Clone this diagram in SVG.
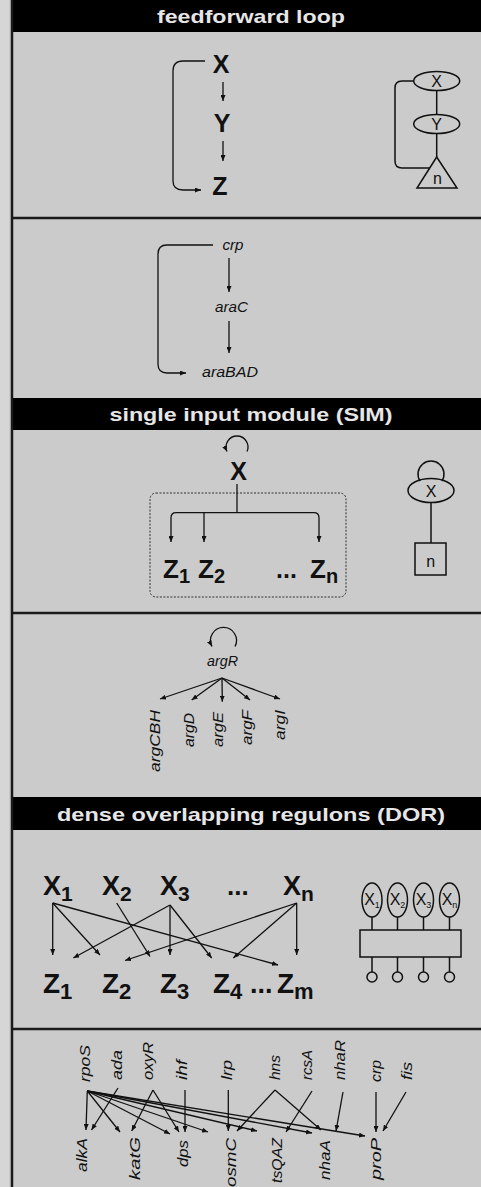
<svg xmlns="http://www.w3.org/2000/svg" width="481" height="1187" viewBox="0 0 481 1187">
<defs>
<marker id="ah" viewBox="0 0 6 5" refX="6" refY="2.5" markerWidth="6" markerHeight="5" markerUnits="userSpaceOnUse" orient="auto"><path d="M0,0 L6,2.5 L0,5 z" fill="#111"/></marker>
</defs>
<style>
.ht{font-family:"Liberation Sans",Arial,sans-serif;font-weight:bold;font-size:19px;fill:#e6e6e6;text-anchor:middle}
.sep{stroke:#1a1a1a;stroke-width:2.5}
.big{font-family:"Liberation Sans",Arial,sans-serif;font-weight:bold;fill:#111}
.it{font-family:"Liberation Sans",Arial,sans-serif;font-style:italic;font-size:15px;fill:#111}
.sm{font-family:"Liberation Sans",Arial,sans-serif;font-size:16px;fill:#111;text-anchor:middle}
.ln{fill:none;stroke:#111;stroke-width:1.3}
.ar{fill:none;stroke:#111;stroke-width:1.3;marker-end:url(#ah)}
.sh{fill:none;stroke:#111;stroke-width:1.5}
</style>
<rect width="481" height="1187" fill="#cbcbcb"/>
<rect width="9" height="1187" fill="#d6d6d6"/>

<!-- headers -->
<g id="hdr-ffl"><rect x="12" y="0" width="469" height="32" fill="#000"/><text class="ht" x="251" y="23" textLength="188" lengthAdjust="spacingAndGlyphs">feedforward loop</text></g>
<g id="hdr-sim"><rect x="12" y="398" width="469" height="32" fill="#000"/><text class="ht" x="251" y="421" textLength="283" lengthAdjust="spacingAndGlyphs">single input module (SIM)</text></g>
<g id="hdr-dor"><rect x="12" y="797" width="469" height="33" fill="#000"/><text class="ht" x="251" y="821" textLength="388" lengthAdjust="spacingAndGlyphs">dense overlapping regulons (DOR)</text></g>

<!-- panel borders -->
<line x1="12" y1="0" x2="12" y2="1187" class="sep"/>
<line x1="12" y1="218" x2="481" y2="218" class="sep"/>
<line x1="12" y1="613" x2="481" y2="613" class="sep"/>
<line x1="12" y1="1029" x2="481" y2="1029" class="sep"/>

<!-- FFL panel -->
<g id="ffl-X"><text class="big" font-size="25" x="221" y="73" text-anchor="middle">X</text></g>
<g id="ffl-Y"><text class="big" font-size="25" x="222" y="132" text-anchor="middle">Y</text></g>
<g id="ffl-Z"><text class="big" font-size="25" x="220" y="195" text-anchor="middle">Z</text></g>
<g id="ffl-icon">
<ellipse class="sh" cx="436.7" cy="81" rx="23" ry="9.5"/>
<ellipse class="sh" cx="436.7" cy="124" rx="23" ry="9.5"/>
<polygon class="sh" points="436.7,157 457,188 417,188"/>
<text class="sm" font-size="17" x="436.7" y="87">X</text>
<text class="sm" font-size="17" x="436.7" y="130">Y</text>
<text class="sm" font-size="18" x="437.5" y="184">n</text>
</g>

<!-- araC panel -->
<g id="ex-crp"><text class="it" x="233" y="250" text-anchor="middle" textLength="21" lengthAdjust="spacingAndGlyphs">crp</text></g>
<g id="ex-araC"><text class="it" x="231.5" y="312" text-anchor="middle" textLength="33" lengthAdjust="spacingAndGlyphs">araC</text></g>
<g id="ex-araBAD"><text class="it" x="230" y="377" text-anchor="middle" textLength="56" lengthAdjust="spacingAndGlyphs">araBAD</text></g>

<!-- SIM panel -->
<g id="sim-X"><text class="big" font-size="25" x="238.5" y="480" text-anchor="middle">X</text></g>
<g id="sim-box"><rect x="150" y="493" width="196" height="104" rx="6" fill="none" stroke="#333" stroke-width="1" stroke-dasharray="2,1.5"/></g>
<g id="sim-Z1"><text class="big" font-size="26" x="163" y="578">Z<tspan font-size="20" dy="5">1</tspan></text></g>
<g id="sim-Z2"><text class="big" font-size="26" x="198" y="578">Z<tspan font-size="20" dy="5">2</tspan></text></g>
<g id="sim-dots"><text class="big" font-size="25" x="276" y="578">...</text></g>
<g id="sim-Zn"><text class="big" font-size="26" x="310" y="578">Z<tspan font-size="20" dy="5">n</tspan></text></g>
<g id="sim-icon">
<ellipse class="sh" cx="431" cy="490.5" rx="23" ry="12"/>
<text class="sm" font-size="18" x="431" y="497">X</text>
<path class="sh" d="M420,481 A13,13 0 1,1 442,481"/>
<line class="sh" x1="431" y1="502.5" x2="431" y2="543"/>
<rect class="sh" x="415" y="543" width="31" height="32"/>
<text class="sm" font-size="18" x="430.7" y="567">n</text>
</g>

<!-- argR panel -->
<g id="arg-R"><text class="it" x="222.5" y="666" text-anchor="middle" textLength="31" lengthAdjust="spacingAndGlyphs">argR</text></g>
<g id="arg-CBH"><text class="it" text-anchor="end" transform="translate(159.5,710) rotate(-90)" textLength="62" lengthAdjust="spacingAndGlyphs">argCBH</text></g>
<g id="arg-D"><text class="it" text-anchor="end" transform="translate(193.5,713) rotate(-90)" textLength="34" lengthAdjust="spacingAndGlyphs">argD</text></g>
<g id="arg-E"><text class="it" text-anchor="end" transform="translate(223,712) rotate(-90)" textLength="35" lengthAdjust="spacingAndGlyphs">argE</text></g>
<g id="arg-F"><text class="it" text-anchor="end" transform="translate(251.5,710) rotate(-90)" textLength="35" lengthAdjust="spacingAndGlyphs">argF</text></g>
<g id="arg-I"><text class="it" text-anchor="end" transform="translate(284.5,710) rotate(-90)" textLength="30" lengthAdjust="spacingAndGlyphs">argI</text></g>

<!-- DOR panel -->
<g id="dor-X1"><text class="big" font-size="27" x="43" y="895">X<tspan font-size="21" dy="6">1</tspan></text></g>
<g id="dor-X2"><text class="big" font-size="27" x="102" y="895">X<tspan font-size="21" dy="6">2</tspan></text></g>
<g id="dor-X3"><text class="big" font-size="27" x="160" y="895">X<tspan font-size="21" dy="6">3</tspan></text></g>
<g id="dor-Xdots"><text class="big" font-size="26" x="227" y="895">...</text></g>
<g id="dor-Xn"><text class="big" font-size="27" x="283" y="895">X<tspan font-size="21" dy="6">n</tspan></text></g>
<g id="dor-Z1"><text class="big" font-size="28" x="43" y="993">Z<tspan font-size="22" dy="6">1</tspan></text></g>
<g id="dor-Z2"><text class="big" font-size="28" x="102" y="993">Z<tspan font-size="22" dy="6">2</tspan></text></g>
<g id="dor-Z3"><text class="big" font-size="28" x="160" y="993">Z<tspan font-size="22" dy="6">3</tspan></text></g>
<g id="dor-Z4"><text class="big" font-size="28" x="213" y="993">Z<tspan font-size="22" dy="6">4</tspan></text></g>
<g id="dor-Zdots"><text class="big" font-size="27" x="250" y="993">...</text></g>
<g id="dor-Zm"><text class="big" font-size="28" x="277" y="993">Z<tspan font-size="22" dy="6">m</tspan></text></g>
<g id="dor-icon">
<ellipse class="sh" cx="372" cy="900" rx="10" ry="17"/>
<ellipse class="sh" cx="397.5" cy="900" rx="10" ry="17"/>
<ellipse class="sh" cx="423.5" cy="900" rx="10" ry="17"/>
<ellipse class="sh" cx="449.5" cy="900" rx="10" ry="17"/>
<text class="sm" font-size="13" x="372" y="905">X<tspan font-size="9" dy="3">1</tspan></text>
<text class="sm" font-size="13" x="397.5" y="905">X<tspan font-size="9" dy="3">2</tspan></text>
<text class="sm" font-size="13" x="423.5" y="905">X<tspan font-size="9" dy="3">3</tspan></text>
<text class="sm" font-size="13" x="449.5" y="905">X<tspan font-size="9" dy="3">n</tspan></text>
<line class="sh" x1="372" y1="917" x2="372" y2="930"/>
<line class="sh" x1="397.5" y1="917" x2="397.5" y2="930"/>
<line class="sh" x1="423.5" y1="917" x2="423.5" y2="930"/>
<line class="sh" x1="449.5" y1="917" x2="449.5" y2="930"/>
<rect class="sh" x="360" y="930" width="101" height="27"/>
<line class="sh" x1="372" y1="957" x2="372" y2="972"/>
<line class="sh" x1="397.5" y1="957" x2="397.5" y2="972"/>
<line class="sh" x1="423.5" y1="957" x2="423.5" y2="972"/>
<line class="sh" x1="449.5" y1="957" x2="449.5" y2="972"/>
<circle class="sh" cx="372" cy="977" r="5"/>
<circle class="sh" cx="397.5" cy="977" r="5"/>
<circle class="sh" cx="423.5" cy="977" r="5"/>
<circle class="sh" cx="449.5" cy="977" r="5"/>
</g>

<!-- bottom network nodes -->
<g id="n-rpoS"><text class="it" transform="translate(89.5,1082) rotate(-90)" textLength="37" lengthAdjust="spacingAndGlyphs">rpoS</text></g>
<g id="n-ada"><text class="it" transform="translate(122,1080) rotate(-90)" textLength="30" lengthAdjust="spacingAndGlyphs">ada</text></g>
<g id="n-oxyR"><text class="it" transform="translate(153,1080) rotate(-90)" textLength="38" lengthAdjust="spacingAndGlyphs">oxyR</text></g>
<g id="n-ihf"><text class="it" transform="translate(186.5,1080) rotate(-90)" textLength="20" lengthAdjust="spacingAndGlyphs">ihf</text></g>
<g id="n-lrp"><text class="it" transform="translate(232,1080) rotate(-90)" textLength="20" lengthAdjust="spacingAndGlyphs">lrp</text></g>
<g id="n-hns"><text class="it" transform="translate(279.5,1080) rotate(-90)" textLength="25" lengthAdjust="spacingAndGlyphs">hns</text></g>
<g id="n-rcsA"><text class="it" transform="translate(312,1080) rotate(-90)" textLength="30" lengthAdjust="spacingAndGlyphs">rcsA</text></g>
<g id="n-nhaR"><text class="it" transform="translate(345,1080) rotate(-90)" textLength="40" lengthAdjust="spacingAndGlyphs">nhaR</text></g>
<g id="n-crp"><text class="it" transform="translate(381,1082) rotate(-90)" textLength="22" lengthAdjust="spacingAndGlyphs">crp</text></g>
<g id="n-fis"><text class="it" transform="translate(412,1080) rotate(-90)" textLength="18" lengthAdjust="spacingAndGlyphs">fis</text></g>
<g id="n-alkA"><text class="it" text-anchor="end" transform="translate(87,1138) rotate(-90)" textLength="34" lengthAdjust="spacingAndGlyphs">alkA</text></g>
<g id="n-katG"><text class="it" text-anchor="end" transform="translate(139.5,1137) rotate(-90)" textLength="43" lengthAdjust="spacingAndGlyphs">katG</text></g>
<g id="n-dps"><text class="it" text-anchor="end" transform="translate(188,1140) rotate(-90)" textLength="27" lengthAdjust="spacingAndGlyphs">dps</text></g>
<g id="n-osmC"><text class="it" text-anchor="end" transform="translate(236,1138) rotate(-90)" textLength="49" lengthAdjust="spacingAndGlyphs">osmC</text></g>
<g id="n-tsQAZ"><text class="it" text-anchor="end" transform="translate(282,1138) rotate(-90)" textLength="45" lengthAdjust="spacingAndGlyphs">tsQAZ</text></g>
<g id="n-nhaA"><text class="it" text-anchor="end" transform="translate(330,1140) rotate(-90)" textLength="40" lengthAdjust="spacingAndGlyphs">nhaA</text></g>
<g id="n-proP"><text class="it" text-anchor="end" transform="translate(381,1138) rotate(-90)" textLength="42" lengthAdjust="spacingAndGlyphs">proP</text></g>

<!-- connectors -->
<g id="connectors">
<line class="ar" x1="223" y1="82" x2="223" y2="101"/>
<line class="ar" x1="223" y1="141" x2="223" y2="161"/>
<path class="ar" d="M205,61 H183 Q173,61 173,71 V181 Q173,190 183,190 H201"/>
<path class="sh" d="M413.7,81 H402 Q395,81 395,88 V161 Q395,168 402,168 H430"/>
<line class="sh" x1="436.7" y1="90.5" x2="436.7" y2="114.5"/>
<line class="sh" x1="436.7" y1="133.5" x2="436.7" y2="157"/>
<line class="ar" x1="229" y1="258" x2="229" y2="292"/>
<line class="ar" x1="229" y1="321" x2="229" y2="353"/>
<path class="ar" d="M213,245 H167 Q158,245 158,254 V364 Q158,373 167,373 H186"/>
<path class="ar" d="M247,451.6 A11,11 0 1,0 227,451.6"/>
<line class="ln" stroke-width="1.8" x1="237" y1="484" x2="237" y2="512.7"/>
<path class="ar" stroke-width="1.8" d="M237,512.7 H176 Q171,512.7 171,518 V542"/>
<path class="ar" stroke-width="1.8" d="M237,512.7 H314 Q319,512.7 319,518 V542"/>
<line class="ar" stroke-width="1.8" x1="204" y1="512.7" x2="204" y2="542"/>
<path class="ar" d="M235,646.5 A13,13 0 1,0 212,646.5"/>
<line class="ar" x1="222" y1="678" x2="160" y2="699"/>
<line class="ar" x1="222" y1="678" x2="191.7" y2="700"/>
<line class="ar" x1="222" y1="678" x2="222.3" y2="701.7"/>
<line class="ar" x1="222" y1="678" x2="250" y2="700"/>
<line class="ar" x1="222" y1="678" x2="280" y2="699"/>
<line class="ar" stroke-width="1.5" x1="52.7" y1="903" x2="52.7" y2="955"/>
<line class="ar" stroke-width="1.5" x1="52.7" y1="903" x2="100" y2="955"/>
<line class="ar" stroke-width="1.5" x1="52.7" y1="903" x2="278" y2="965"/>
<line class="ar" stroke-width="1.5" x1="116.7" y1="903" x2="150" y2="956.5"/>
<line class="ar" stroke-width="1.5" x1="170" y1="905" x2="73.3" y2="958"/>
<line class="ar" stroke-width="1.5" x1="170" y1="905" x2="170" y2="955"/>
<line class="ar" stroke-width="1.5" x1="170" y1="905" x2="211.7" y2="958"/>
<line class="ar" stroke-width="1.5" x1="296.7" y1="903" x2="125" y2="960.5"/>
<line class="ar" stroke-width="1.5" x1="296.7" y1="903" x2="233.3" y2="958"/>
<line class="ar" stroke-width="1.5" x1="296.7" y1="903" x2="296.7" y2="955"/>
<line class="ar" x1="87.3" y1="1091" x2="86" y2="1130"/>
<line class="ar" x1="87.3" y1="1091" x2="120" y2="1132"/>
<line class="ar" x1="87.3" y1="1091" x2="170" y2="1134"/>
<line class="ar" x1="87.3" y1="1091" x2="208" y2="1132"/>
<line class="ar" x1="87.3" y1="1091" x2="257" y2="1131"/>
<line class="ar" x1="87.3" y1="1091" x2="312" y2="1133"/>
<line class="ar" x1="87.3" y1="1091" x2="365" y2="1136"/>
<line class="ar" x1="118" y1="1088" x2="91.5" y2="1130"/>
<line class="ar" x1="153" y1="1090" x2="131.7" y2="1131"/>
<line class="ar" x1="153" y1="1090" x2="179" y2="1132"/>
<line class="ar" x1="185" y1="1090" x2="185" y2="1132"/>
<line class="ar" x1="228.3" y1="1090" x2="228.3" y2="1131"/>
<line class="ar" x1="275" y1="1090" x2="237" y2="1131"/>
<line class="ar" x1="275" y1="1090" x2="321" y2="1130"/>
<line class="ar" x1="312" y1="1091" x2="286" y2="1132"/>
<line class="ar" x1="343" y1="1092" x2="336" y2="1131"/>
<line class="ar" x1="376" y1="1092" x2="376" y2="1132"/>
<line class="ar" x1="406" y1="1092" x2="383" y2="1131"/>
</g>
</svg>
